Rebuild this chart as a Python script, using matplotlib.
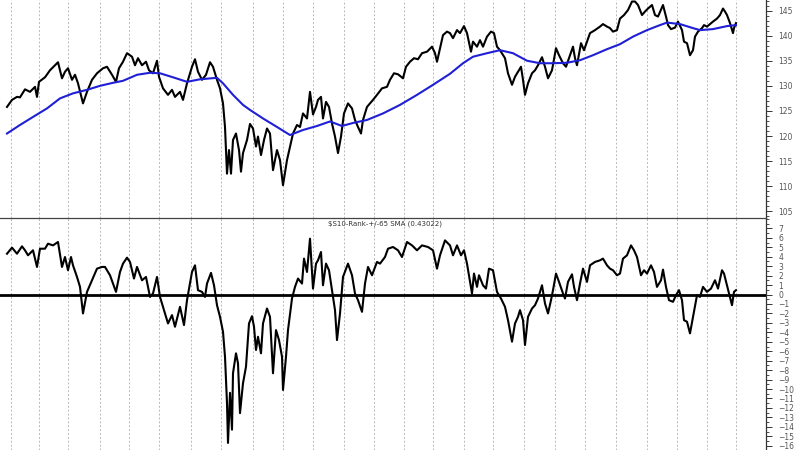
import numpy as np
import matplotlib
matplotlib.use("Agg")
import matplotlib.pyplot as plt
from matplotlib.ticker import MultipleLocator

# trading-day position (chart bar units) and values
price_t = [7, 12, 17, 20, 25, 30, 35, 37, 39, 45, 50, 55, 58, 62, 65, 68, 72, 75, 78, 83,
           87, 92, 97, 103, 107, 112, 116, 119, 123, 127, 132, 135, 138, 142, 146, 149, 153, 157, 159, 163,
           168, 172, 175, 180, 183, 187, 192, 195, 198, 202, 206, 210, 213, 217, 220, 223, 225, 227, 229, 231,
           233, 236, 239, 241, 243, 247, 250, 253, 256, 258, 261, 264, 267, 270, 273, 277, 280, 283, 287, 290,
           293, 297, 300, 303, 307, 310, 313, 316, 318, 321, 323, 326, 329, 332, 335, 338, 341, 344, 348, 352,
           355, 358, 361, 363, 367, 370, 373, 377, 382, 387, 390, 394, 398, 403, 406, 410, 414, 418, 422, 427,
           432, 435, 437, 440, 443, 447, 450, 453, 457, 460, 464, 467, 471, 473, 477, 480, 483, 487, 491, 494,
           497, 500, 505, 508, 512, 515, 518, 521, 523, 525, 528, 532, 535, 538, 542, 545, 548, 552, 556, 559,
           563, 566, 570, 573, 575, 577, 581, 584, 587, 590, 595, 600, 603, 607, 610, 613, 617, 620, 624, 628,
           632, 635, 638, 642, 645, 648, 652, 655, 658, 663, 666, 668, 671, 675, 678, 682, 684, 687, 690, 693,
           695, 698, 702, 704, 707, 710, 713, 717, 720, 723, 725, 727, 730, 733, 734, 736]
price = [125.8, 127.2, 127.8, 127.7, 129.3, 128.8, 129.8, 127.8, 130.8, 131.7, 133.1, 134.1, 134.7, 131.5, 132.8, 133.5, 131.2, 132.2, 130.5, 126.5,
         128.8, 131.2, 132.5, 133.5, 133.8, 132.2, 130.8, 133.5, 134.8, 136.5, 135.8, 134.1, 135.5, 134.1, 134.8, 133.1, 132.5, 135.0, 131.8, 129.5,
         128.2, 129.2, 127.8, 128.8, 127.2, 130.5, 133.8, 135.3, 132.8, 131.2, 132.2, 134.7, 133.8, 131.2, 129.5, 126.5, 121.8, 112.5, 117.2, 112.5,
         119.2, 120.5, 117.2, 112.9, 116.6, 119.2, 122.4, 121.5, 117.9, 119.9, 116.2, 119.2, 121.5, 120.5, 113.2, 117.2, 115.2, 110.2, 115.2, 117.9,
         120.5, 122.2, 121.8, 124.5, 123.5, 128.8, 124.3, 125.8, 127.2, 127.8, 123.5, 126.8, 125.8, 122.5, 119.9, 116.6, 119.9, 124.5, 126.5, 125.5,
         123.2, 121.8, 120.5, 123.2, 125.8, 126.5, 127.2, 128.2, 129.5, 129.8, 131.2, 132.5, 132.3, 131.5, 133.8, 134.8, 135.5, 135.3, 136.5, 136.8,
         137.8, 136.5, 134.8, 137.5, 140.1, 140.8, 140.5, 139.5, 141.1, 140.5, 141.9, 140.5, 136.8, 138.8, 137.8, 139.1, 137.8, 139.8, 140.8, 140.5,
         137.8, 137.1, 135.5, 132.5, 130.2, 131.8, 132.8, 133.8, 131.2, 128.2, 130.5, 132.5, 133.1, 134.1, 135.7, 133.8, 131.5, 133.1, 137.5, 136.1,
         134.5, 133.8, 136.1, 137.8, 135.5, 134.1, 138.5, 137.1, 138.8, 140.5, 141.1, 141.8, 142.3, 141.8, 141.5, 140.8, 141.1, 143.4, 144.1, 145.1,
         146.8, 146.8, 146.1, 144.1, 144.8, 145.4, 146.1, 144.1, 143.8, 146.1, 143.8, 142.1, 141.3, 141.6, 142.8, 141.1, 138.8, 138.5, 136.1, 137.1,
         139.8, 140.8, 141.5, 142.1, 141.8, 142.3, 142.8, 143.4, 144.1, 145.4, 144.8, 144.1, 142.5, 140.5, 141.5, 142.5]

sma_t = [7, 20, 33, 47, 60, 73, 87, 100, 113, 123, 137, 150, 160, 173, 187, 200, 217, 223, 233, 243,
         250, 263, 277, 290, 303, 317, 330, 342, 353, 367, 383, 400, 417, 433, 450, 463, 473, 487, 500, 513,
         527, 540, 553, 567, 580, 593, 607, 620, 633, 647, 660, 667, 680, 693, 700, 713, 727, 736]
sma = [120.5, 122.2, 123.8, 125.5, 127.5, 128.5, 129.2, 130.0, 130.6, 131.0, 132.2, 132.6, 132.5, 131.7, 130.8, 131.3, 131.6, 130.5, 128.2, 126.2,
       125.2, 123.5, 121.8, 120.2, 121.2, 122.0, 122.9, 122.0, 122.6, 123.2, 124.5, 126.2, 128.2, 130.2, 132.4, 134.5, 135.8, 136.5, 137.1, 136.5,
       135.0, 134.5, 134.5, 134.6, 135.1, 136.1, 137.3, 138.3, 139.8, 141.1, 142.1, 142.6, 142.3, 141.5, 141.1, 141.3, 141.9, 142.1]

osc_t = [7, 12, 17, 22, 25, 28, 33, 37, 40, 45, 48, 53, 58, 62, 65, 68, 71, 73, 77, 80,
         83, 87, 92, 97, 102, 105, 110, 116, 120, 123, 127, 130, 134, 137, 142, 146, 150, 153, 157, 160,
         165, 168, 172, 175, 180, 184, 187, 192, 195, 198, 202, 205, 207, 211, 214, 217, 220, 223, 225, 227,
         228, 230, 232, 233, 236, 238, 240, 243, 246, 249, 252, 254, 256, 258, 261, 263, 267, 270, 273, 276,
         279, 282, 283, 286, 288, 292, 295, 298, 302, 304, 307, 310, 313, 316, 318, 321, 323, 326, 329, 333,
         335, 337, 340, 343, 348, 352, 355, 358, 362, 365, 368, 372, 377, 380, 385, 388, 393, 398, 402, 407,
         412, 417, 422, 428, 433, 437, 440, 445, 450, 453, 457, 461, 464, 467, 470, 472, 474, 477, 479, 483,
         486, 489, 493, 497, 501, 505, 508, 512, 515, 518, 520, 523, 525, 528, 532, 535, 538, 542, 545, 548,
         551, 553, 556, 559, 563, 565, 568, 572, 574, 577, 580, 583, 587, 590, 595, 600, 603, 607, 610, 613,
         617, 620, 623, 627, 631, 634, 637, 641, 644, 647, 651, 654, 657, 661, 663, 666, 669, 673, 676, 679,
         682, 684, 687, 690, 693, 697, 700, 703, 707, 711, 715, 718, 722, 724, 727, 730, 732, 734, 736]
osc = [4.32, 4.96, 4.32, 5.10, 4.68, 4.15, 4.68, 2.92, 4.85, 4.85, 5.38, 5.20, 5.56, 2.92, 3.97, 2.57, 3.97, 3.09, 1.86, 0.81,
       -2.0, 0.28, 1.51, 2.74, 2.92, 2.92, 2.04, 0.28, 2.39, 3.27, 3.90, 3.45, 1.69, 2.92, 1.51, 1.86, -0.25, 0.11, 1.86, -0.25,
       -2.0, -3.06, -2.18, -3.41, -1.30, -3.23, -0.60, 2.39, 3.09, 0.46, 0.28, -0.25, 1.16, 2.29, 0.98, -1.13, -2.36, -3.94, -6.58, -11.5,
       -15.7, -10.4, -14.3, -8.33, -6.22, -7.28, -12.55, -9.39, -7.63, -3.06, -2.29, -3.41, -5.87, -4.47, -6.22, -3.06, -1.48, -2.36, -8.33, -3.76,
       -4.82, -6.58, -10.1, -6.58, -3.76, -0.42, 0.81, 1.69, 1.16, 3.80, 2.39, 5.91, 0.63, 3.27, 3.62, 4.50, 0.98, 3.27, 2.57, -0.25,
       -1.65, -4.82, -2.0, 1.86, 3.27, 2.04, 0.11, -0.60, -1.83, 1.16, 2.92, 2.04, 3.45, 3.27, 3.97, 4.85, 5.03, 4.68, 3.97, 5.56,
       5.20, 4.68, 5.20, 5.03, 4.68, 2.74, 4.15, 5.73, 5.20, 4.15, 5.20, 4.15, 4.68, 3.27, 1.34, 0.11, 2.22, 0.81, 2.04, 0.98,
       0.63, 2.74, 2.57, 0.28, -0.42, -1.30, -2.71, -4.99, -3.06, -2.36, -1.65, -2.71, -5.34, -2.36, -1.48, -1.13, -0.42, 0.98, -0.95, -2.0,
       -0.60, 0.46, 2.22, 1.34, 0.11, -0.42, 1.34, 2.14, 0.81, -0.60, 1.16, 2.74, 1.34, 3.09, 3.45, 3.62, 3.80, 3.09, 2.74, 2.57,
       2.04, 2.22, 3.80, 4.15, 5.20, 4.68, 3.97, 2.04, 2.57, 2.22, 3.09, 2.39, 0.81, 1.51, 2.64, 0.81, -0.60, -0.77, -0.07, 0.46,
       -0.60, -2.71, -2.88, -4.11, -2.36, -0.07, -0.25, 0.81, 0.28, 0.63, 1.51, 0.63, 2.57, 2.22, 0.98, -0.25, -1.13, 0.28, 0.46]

# first session of each month
month_starts = [11, 39, 68, 100, 129, 159, 191, 221, 253, 283, 313, 344, 374, 404, 433, 464,
                493, 524, 555, 585, 616, 647, 677, 707, 736]

osc_title = "$S10-Rank-+/-65 SMA (0.43022)"

fig = plt.figure(figsize=(8, 4.5), dpi=100)
ax1 = fig.add_axes([0, 0.5156, 0.9575, 0.4844])
ax2 = fig.add_axes([0, 0, 0.9575, 0.5156])

for ax in (ax1, ax2):
    ax.set_xlim(0, 766)
    ax.yaxis.tick_right()
    ax.set_xticks(month_starts)
    ax.tick_params(axis="x", length=0, labelbottom=False)
    ax.grid(axis="x", color="#b8b8b8", linestyle=(0, (2, 2)), linewidth=0.7)
    ax.spines["left"].set_visible(False)
    ax.spines["top"].set_visible(False)
    ax.spines["bottom"].set_visible(False)
    ax.spines["right"].set_color("#333333")
    ax.spines["right"].set_linewidth(0.9)
    ax.tick_params(axis="y", which="major", length=4, width=0.7, colors="#333333",
                   labelsize=5.5, labelcolor="#555555", pad=5)
    ax.tick_params(axis="y", which="minor", length=2, width=0.6, colors="#333333")

ax2.spines["top"].set_visible(True)
ax2.spines["top"].set_color("#444444")
ax2.spines["top"].set_linewidth(0.9)

# top panel: price and moving average
ax1.plot(price_t, price, color="black", linewidth=1.5)
ax1.plot(sma_t, sma, color="#1f1fd6", linewidth=1.5)
ax1.set_ylim(103.67, 147.1)
ax1.yaxis.set_major_locator(MultipleLocator(5))
ax1.yaxis.set_minor_locator(MultipleLocator(1))
ax1.set_yticks(np.arange(105, 150, 5))

# bottom panel: percent above/below SMA
ax2.axhline(0, color="black", linewidth=2)
ax2.plot(osc_t, osc, color="black", linewidth=1.5)
ax2.set_ylim(-16.45, 8.1)
ax2.yaxis.set_major_locator(MultipleLocator(1))
ax2.yaxis.set_minor_locator(MultipleLocator(0.5))
ax2.set_yticks(np.arange(-16, 8, 1))
ax2.text(0.503, 0.977, osc_title, transform=ax2.transAxes, ha="center", va="center",
         fontsize=5, color="#333333")

fig.savefig("out.png", dpi=100)
